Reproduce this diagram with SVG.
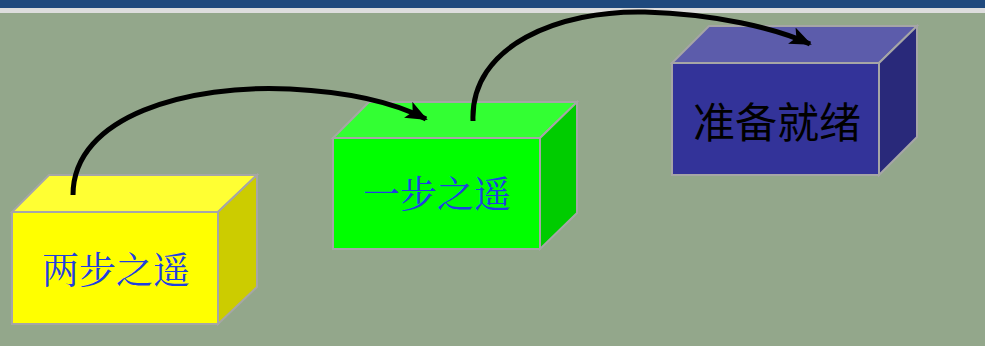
<svg xmlns="http://www.w3.org/2000/svg" width="985" height="346" viewBox="0 0 985 346">
<defs>
<style>
.edge{stroke:#A6A6A6;stroke-width:2;stroke-linejoin:miter}
.conn{fill:none;stroke:#000;stroke-width:5}
.cn{font-family:"Noto Serif CJK SC","Noto Sans CJK SC",serif;font-size:37px;fill:#1F3FE0;text-anchor:middle}
.cs{font-family:"Noto Sans CJK SC",sans-serif;font-size:42px;fill:#000;text-anchor:middle}
</style>
<marker id="ah" markerUnits="userSpaceOnUse" markerWidth="24" markerHeight="20" refX="20" refY="9" orient="auto">
<path d="M0,0 L22,9 L0,18 L5,9 Z" fill="#000"/>
</marker>
</defs>
<rect width="985" height="346" fill="#93A78B"/>
<rect width="985" height="8" fill="#1F497D"/>
<rect y="8" width="985" height="5" fill="#DDDDDD"/>
<g id="node-yellow">
<polygon class="edge" points="12,212 49,175 257,175 218,212" fill="#FFFF33"/>
<polygon class="edge" points="218,212 257,175 257,287 218,324" fill="#CCCC00"/>
<rect class="edge" x="12" y="212" width="206" height="112" fill="#FFFF00"/>
<text class="cn" x="116" y="284">两步之遥</text>
</g>
<g id="node-green">
<polygon class="edge" points="333,138 369,102 577,102 540,138" fill="#33FF33"/>
<polygon class="edge" points="540,138 577,102 577,213 540,249" fill="#00CC00"/>
<rect class="edge" x="333" y="138" width="207" height="111" fill="#00FF00"/>
<text class="cn" x="437" y="208">一步之遥</text>
</g>
<g id="node-blue">
<polygon class="edge" points="672,63 709,26 917,26 879,63" fill="#5C5CAB"/>
<polygon class="edge" points="879,63 917,26 917,137 879,175" fill="#29297A"/>
<rect class="edge" x="672" y="63" width="207" height="112" fill="#333399"/>
<text class="cs" x="777" y="138">准备就绪</text>
</g>
<g id="connectors">
<path class="conn" marker-end="url(#ah)" d="M73,195 C73,115 190,84 290,89 C350,92 395,103 426,119"/>
<path class="conn" marker-end="url(#ah)" d="M473,121 C470,45 560,10 645,12 C715,14 775,28 810,44"/>
</g>
</svg>
